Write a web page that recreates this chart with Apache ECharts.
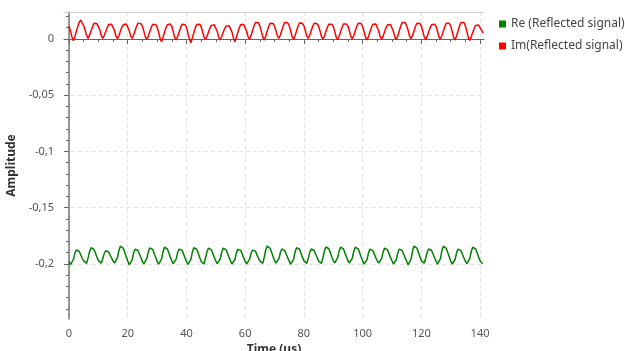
<!DOCTYPE html>
<html>
<head>
<meta charset="utf-8">
<script src="https://cdn.jsdelivr.net/npm/echarts@6/dist/echarts.min.js"></script>
<style>
html, body { margin: 0; padding: 0; background: #fff; }
#chart { width: 625px; height: 351px; }
</style>
</head>
<body>
<div id="chart"></div>
<script>
// one sample every 0.5 us, starting at t = 0
const sampleStep = 0.5;

const seriesNames = ["Re (Reflected signal)", "Im(Reflected signal)"];

// Re (green), one row per ~5 us cycle
const reValues = [
    -0.1975, -0.2005, -0.2018, -0.1962, -0.1905, -0.1876, -0.1869, -0.1889, -0.1918, -0.1949,
    -0.1972, -0.1988, -0.1994, -0.1946, -0.1891, -0.1855, -0.1846, -0.1871, -0.1903, -0.1938,
    -0.1968, -0.1985, -0.1994, -0.1951, -0.1908, -0.1882, -0.1876, -0.1893, -0.1921, -0.1947,
    -0.1974, -0.1992, -0.2000, -0.1943, -0.1880, -0.1842, -0.1831, -0.1862, -0.1897, -0.1935,
    -0.1973, -0.2007, -0.2024, -0.1966, -0.1903, -0.1869, -0.1860, -0.1880, -0.1912, -0.1945,
    -0.1979, -0.1998, -0.2009, -0.1952, -0.1893, -0.1857, -0.1846, -0.1870, -0.1906, -0.1941,
    -0.1976, -0.2001, -0.2015, -0.1959, -0.1895, -0.1851, -0.1840, -0.1866, -0.1901, -0.1938,
    -0.1973, -0.1996, -0.2009, -0.1957, -0.1900, -0.1868, -0.1860, -0.1878, -0.1910, -0.1944,
    -0.1977, -0.2003, -0.2018, -0.1961, -0.1897, -0.1855, -0.1846, -0.1869, -0.1904, -0.1940,
    -0.1975, -0.1991, -0.2000, -0.1947, -0.1892, -0.1858, -0.1851, -0.1874, -0.1907, -0.1942,
    -0.1974, -0.1997, -0.2009, -0.1955, -0.1896, -0.1860, -0.1851, -0.1873, -0.1905, -0.1939,
    -0.1972, -0.2000, -0.2015, -0.1962, -0.1904, -0.1870, -0.1860, -0.1879, -0.1911, -0.1946,
    -0.1977, -0.1998, -0.2009, -0.1959, -0.1907, -0.1877, -0.1869, -0.1886, -0.1917, -0.1948,
    -0.1973, -0.1987, -0.1994, -0.1940, -0.1878, -0.1841, -0.1831, -0.1860, -0.1896, -0.1934,
    -0.1970, -0.1992, -0.2003, -0.1953, -0.1898, -0.1867, -0.1860, -0.1881, -0.1913, -0.1944,
    -0.1975, -0.2002, -0.2015, -0.1958, -0.1894, -0.1856, -0.1846, -0.1868, -0.1903, -0.1939,
    -0.1972, -0.1986, -0.1994, -0.1948, -0.1897, -0.1867, -0.1860, -0.1880, -0.1911, -0.1943,
    -0.1974, -0.1988, -0.1994, -0.1942, -0.1884, -0.1849, -0.1840, -0.1864, -0.1899, -0.1936,
    -0.1970, -0.1990, -0.2000, -0.1946, -0.1886, -0.1850, -0.1840, -0.1866, -0.1902, -0.1937,
    -0.1971, -0.1991, -0.2000, -0.1947, -0.1887, -0.1851, -0.1840, -0.1865, -0.1900, -0.1938,
    -0.1972, -0.2001, -0.2015, -0.1961, -0.1902, -0.1868, -0.1860, -0.1881, -0.1912, -0.1945,
    -0.1973, -0.1993, -0.2003, -0.1950, -0.1893, -0.1859, -0.1851, -0.1875, -0.1908, -0.1941,
    -0.1971, -0.2000, -0.2015, -0.1960, -0.1901, -0.1867, -0.1860, -0.1882, -0.1914, -0.1946,
    -0.1976, -0.2007, -0.2024, -0.1958, -0.1885, -0.1842, -0.1831, -0.1859, -0.1895, -0.1933,
    -0.1970, -0.1985, -0.1994, -0.1947, -0.1896, -0.1867, -0.1860, -0.1880, -0.1911, -0.1944,
    -0.1974, -0.2001, -0.2015, -0.1953, -0.1882, -0.1841, -0.1831, -0.1861, -0.1897, -0.1935,
    -0.1972, -0.2000, -0.2015, -0.1960, -0.1901, -0.1868, -0.1860, -0.1881, -0.1913, -0.1946,
    -0.1974, -0.1997, -0.2009, -0.1952, -0.1889, -0.1851, -0.1840, -0.1866, -0.1901, -0.1938,
    -0.1970, -0.1990, -0.1994
];

// Im (red), same sampling
const imValues = [
    0.0116, 0.0072, 0.0018, -0.0015, 0.0021, 0.0068, 0.0112, 0.0148, 0.0169, 0.0141,
    0.0118, 0.0079, 0.0031, 0.0006, 0.0034, 0.0071, 0.0106, 0.0139, 0.0154, 0.0137,
    0.0122, 0.0083, 0.0029, 0.0006, 0.0031, 0.0064, 0.0102, 0.0128, 0.0140, 0.0131,
    0.0117, 0.0074, 0.0025, 0.0004, 0.0029, 0.0069, 0.0104, 0.0126, 0.0140, 0.0134,
    0.0119, 0.0077, 0.0027, 0.0005, 0.0035, 0.0073, 0.0111, 0.0141, 0.0154, 0.0136,
    0.0115, 0.0068, 0.0019, -0.0003, 0.0026, 0.0065, 0.0103, 0.0129, 0.0140, 0.0128,
    0.0109, 0.0061, 0.0009, -0.0024, 0.0012, 0.0058, 0.0098, 0.0127, 0.0140, 0.0133,
    0.0113, 0.0066, 0.0015, -0.0009, 0.0022, 0.0063, 0.0101, 0.0131, 0.0140, 0.0127,
    0.0106, 0.0052, 0.0003, -0.0033, 0.0008, 0.0054, 0.0097, 0.0129, 0.0145, 0.0132,
    0.0111, 0.0065, 0.0017, -0.0003, 0.0024, 0.0061, 0.0096, 0.0121, 0.0133, 0.0126,
    0.0109, 0.0067, 0.0016, -0.0009, 0.0020, 0.0057, 0.0091, 0.0114, 0.0124, 0.0119,
    0.0108, 0.0063, 0.0010, -0.0024, 0.0014, 0.0059, 0.0099, 0.0128, 0.0140, 0.0130,
    0.0114, 0.0069, 0.0020, -0.0003, 0.0030, 0.0074, 0.0116, 0.0147, 0.0163, 0.0144,
    0.0117, 0.0070, 0.0017, -0.0009, 0.0025, 0.0069, 0.0110, 0.0139, 0.0154, 0.0138,
    0.0116, 0.0074, 0.0026, 0.0006, 0.0036, 0.0078, 0.0118, 0.0149, 0.0163, 0.0143,
    0.0120, 0.0073, 0.0021, -0.0003, 0.0029, 0.0072, 0.0113, 0.0142, 0.0157, 0.0139,
    0.0118, 0.0076, 0.0028, 0.0006, 0.0033, 0.0074, 0.0112, 0.0140, 0.0154, 0.0136,
    0.0114, 0.0071, 0.0022, 0.0000, 0.0027, 0.0066, 0.0104, 0.0132, 0.0145, 0.0131,
    0.0112, 0.0068, 0.0018, -0.0005, 0.0024, 0.0065, 0.0103, 0.0133, 0.0145, 0.0134,
    0.0115, 0.0072, 0.0024, 0.0003, 0.0031, 0.0071, 0.0110, 0.0140, 0.0154, 0.0137,
    0.0113, 0.0066, 0.0016, -0.0009, 0.0021, 0.0062, 0.0102, 0.0131, 0.0145, 0.0133,
    0.0116, 0.0071, 0.0021, 0.0000, 0.0026, 0.0064, 0.0100, 0.0127, 0.0140, 0.0129,
    0.0112, 0.0067, 0.0017, -0.0005, 0.0028, 0.0073, 0.0116, 0.0148, 0.0163, 0.0145,
    0.0119, 0.0075, 0.0025, 0.0003, 0.0032, 0.0072, 0.0111, 0.0140, 0.0154, 0.0138,
    0.0116, 0.0070, 0.0019, -0.0005, 0.0023, 0.0062, 0.0099, 0.0127, 0.0140, 0.0131,
    0.0113, 0.0069, 0.0020, 0.0000, 0.0029, 0.0070, 0.0110, 0.0140, 0.0154, 0.0139,
    0.0117, 0.0070, 0.0016, -0.0009, 0.0026, 0.0071, 0.0115, 0.0147, 0.0163, 0.0146,
    0.0118, 0.0068, 0.0014, -0.0012, 0.0019, 0.0058, 0.0094, 0.0120, 0.0133, 0.0124,
    0.0108, 0.0079, 0.0053
];

const xTicks = [0, 20, 40, 60, 80, 100, 120, 140];
const xMinorTicks = [5, 10, 15, 25, 30, 35, 45, 50, 55, 65, 70, 75, 85, 90, 95, 105, 110, 115, 125, 130, 135];
const yTicks = [-0.2, -0.15, -0.1, -0.05, 0];
const yMinorTicks = [-0.24, -0.23, -0.22, -0.21, -0.19, -0.18, -0.17, -0.16, -0.14, -0.13, -0.12, -0.11,
    -0.09, -0.08, -0.07, -0.06, -0.04, -0.03, -0.02, -0.01, 0.01, 0.02];

const toPairs = vals => vals.map((v, i) => [i * sampleStep, v]);

const FONT = "Noto Sans";
const xMin = -1.7, xMax = 141.35;
const yMin = -0.2489, yMax = 0.024;

const chart = echarts.init(document.getElementById("chart"));

const option = {
    animation: false,
    textStyle: { fontFamily: FONT },
    grid: { left: 64, right: 141, top: 12, bottom: 32, outerBoundsMode: "none", containLabel: false },
    legend: {
        orient: "vertical",
        left: 494,
        top: 13,
        itemWidth: 7,
        itemHeight: 7,
        itemGap: 10,
        icon: "rect",
        textStyle: { fontFamily: FONT, fontSize: 12, color: "#444" },
        data: seriesNames
    },
    xAxis: [
        {
            type: "value",
            min: xMin,
            max: xMax,
            name: "Time (us)",
            nameLocation: "middle",
            nameGap: 24,
            nameTextStyle: { fontFamily: FONT, fontSize: 12, fontWeight: "bold", color: "#333" },
            axisLine: { show: true, lineStyle: { color: "#666" } },
            axisTick: { show: true, length: 5, customValues: xTicks, lineStyle: { color: "#666" } },
            axisLabel: {
                customValues: xTicks,
                fontFamily: FONT,
                fontSize: 11,
                color: "#555",
                margin: 9
            },
            splitLine: { show: true, lineStyle: { color: "#e3e3e3", type: [4, 3] } }
        },
        {
            type: "value",
            min: xMin,
            max: xMax,
            position: "bottom",
            axisLine: { show: false },
            axisTick: { show: true, length: 3, customValues: xMinorTicks, lineStyle: { color: "#666" } },
            axisLabel: { show: false },
            splitLine: { show: false }
        },
        {
            type: "value",
            min: xMin,
            max: xMax,
            position: "top",
            axisLine: { show: true, lineStyle: { color: "#d0d0d0" } },
            axisTick: { show: false },
            axisLabel: { show: false },
            splitLine: { show: false }
        }
    ],
    yAxis: [
        {
            type: "value",
            min: yMin,
            max: yMax,
            name: "Amplitude",
            nameLocation: "middle",
            nameGap: 43,
            nameTextStyle: { fontFamily: FONT, fontSize: 12, fontWeight: "bold", color: "#333" },
            axisLine: { show: true, lineStyle: { color: "#777", width: 1.5 } },
            axisTick: { show: true, length: 5, customValues: yTicks, lineStyle: { color: "#666" } },
            axisLabel: {
                customValues: yTicks,
                fontFamily: FONT,
                fontSize: 11,
                color: "#555",
                margin: 10,
                formatter: v => String(+Number(v).toFixed(2)).replace(".", ",")
            },
            splitLine: { show: true, lineStyle: { color: "#e3e3e3", type: [4, 3] } }
        },
        {
            type: "value",
            min: yMin,
            max: yMax,
            position: "left",
            axisLine: { show: false },
            axisTick: { show: true, length: 3, customValues: yMinorTicks, lineStyle: { color: "#666" } },
            axisLabel: { show: false },
            splitLine: { show: false }
        }
    ],
    series: [
        {
            name: seriesNames[0],
            type: "line",
            data: toPairs(reValues),
            showSymbol: false,
            itemStyle: { color: "#008000" },
            lineStyle: { color: "#008000", width: 1.5 }
        },
        {
            name: seriesNames[1],
            type: "line",
            data: toPairs(imValues),
            showSymbol: false,
            itemStyle: { color: "#ff0000" },
            lineStyle: { color: "#ff0000", width: 1.5 }
        }
    ]
};

chart.setOption(option);
</script>
</body>
</html>
